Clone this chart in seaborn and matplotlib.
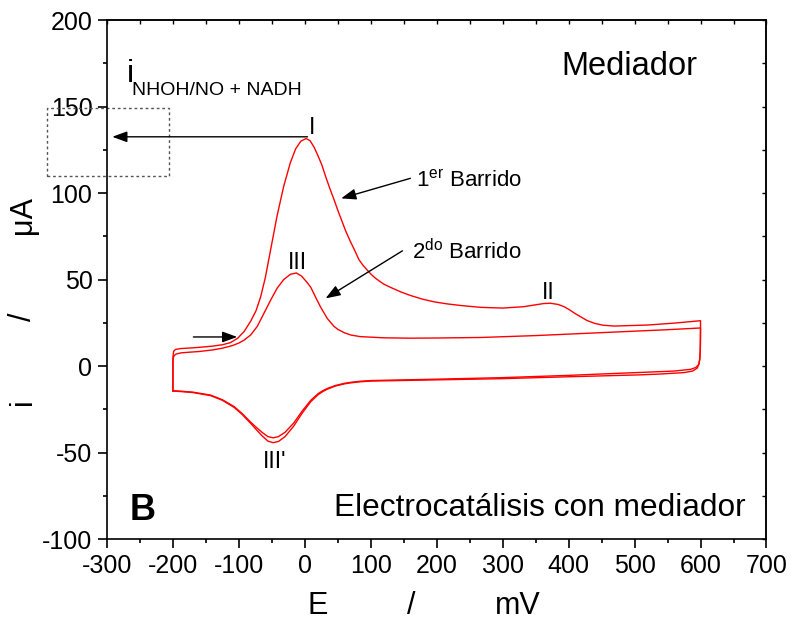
import matplotlib
matplotlib.use("Agg")
import matplotlib.pyplot as plt
import matplotlib.transforms as mtransforms
from matplotlib.patches import Rectangle
from matplotlib.ticker import MultipleLocator, NullFormatter
import pandas as pd
import seaborn as sns

# Cyclic voltammogram, scan 1 (E in mV, i in uA), closed loop starting at -200 mV
scan1_E = [-200, -200, -199, -196, -188, -175, -160, -140, -125, -113, -102, -92, -82, -74,
           -67, -60, -52, -42, -32, -22, -14, -6, 2, 8, 14, 20, 26, 32, 38, 44, 50, 56, 62,
           69, 76, 82, 88, 95, 101, 107, 114, 120, 128, 135, 147, 160, 178, 196, 216, 236,
           267, 300, 332, 350, 362, 372, 384, 393, 400, 410, 418, 428, 439, 452, 469, 520,
           560, 600,
           599.8, 599, 597, 593, 585, 560, 509, 450, 400, 300, 200, 100, 84, 70, 60, 46, 34,
           27, 20, 9, -4, -17, -30, -40, -48, -56, -65, -74, -82, -95, -107, -125, -143,
           -170, -190, -200]
scan1_i = [-14.3, 5, 8.5, 9.6, 10.1, 10.4, 10.8, 11.5, 12.3, 13.5, 16, 20, 26, 32,
           40, 51, 67, 87, 104, 117.5, 125.5, 130, 131.5, 130.2, 126.5, 121.5, 116, 109,
           102.5, 96.5, 90, 84, 78, 72, 66.5, 61.5, 58.3, 55.3, 52.8, 50.8, 48.8, 47.3,
           45.8, 44.6, 42.6, 40.8, 38.7, 37.1, 35.9, 35, 33.9, 33.5, 34.3, 35.4, 36.1, 36.3,
           35.6, 34.3, 32.8, 30.3, 28.5, 26.3, 24.7, 23.6, 23.1, 23.7, 24.8, 26.2,
           12, 4, 0.8, -0.8, -1.9, -2.9, -3.7, -4.6, -5.4, -6.7, -7.6, -8.4, -8.8, -9.4, -10,
           -11.3, -13, -14.3, -16, -19.8, -26, -33, -38.3, -40.8, -41.5, -40.8, -38.3, -35.3,
           -32.5, -27.5, -23.5, -19.5, -16.8, -15.1, -14.5, -14.3]

# Scan 2
scan2_E = [-200, -200, -199, -196, -188, -175, -160, -140, -125, -110, -100, -92, -82, -72,
           -62, -52, -42, -32, -22, -13, -5, 3, 9, 16, 24, 34, 44, 50, 60, 70, 84, 120, 160,
           200, 267, 350, 450, 550, 600,
           599.5, 598, 595, 588, 575, 540, 509, 450, 400, 300, 200, 100, 84, 70, 60, 46, 34,
           27, 20, 9, -4, -17, -30, -40, -48, -56, -65, -74, -82, -95, -107, -125, -143,
           -170, -190, -200]
scan2_i = [-14.5, 3, 5.5, 6.8, 7.6, 8.0, 8.4, 9.3, 10.3, 11.8, 13.3, 15, 18, 23,
           30.5, 38, 45, 50, 53, 53.8, 52, 48.5, 45.5, 40, 34, 27.5, 23, 21.2, 19.2, 17.9,
           17, 16.3, 16.1, 16.2, 16.5, 17.6, 19.3, 21, 22,
           8, 1.5, -1.2, -2.9, -3.8, -4.6, -5.1, -5.7, -6.2, -7.3, -8.0, -8.7, -9.1, -9.7,
           -10.3, -11.6, -13.4, -14.8, -16.6, -20.6, -27.2, -34.8, -40.8, -43.6, -44.3,
           -43.4, -40.3, -36.6, -33.2, -28, -24, -19.8, -17.1, -15.3, -14.7, -14.5]

scan_names = ["1er Barrido", "2do Barrido"]

frames = []
for name, E, cur in zip(scan_names, [scan1_E, scan2_E], [scan1_i, scan2_i]):
    frames.append(pd.DataFrame({"E": E, "i": cur, "barrido": name}))
df = pd.concat(frames, ignore_index=True)

sns.set_theme(style="ticks")
plt.rcParams["font.family"] = ["Liberation Sans", "DejaVu Sans"]
plt.rcParams["mathtext.fontset"] = "custom"
plt.rcParams["mathtext.rm"] = "Liberation Sans"
plt.rcParams["mathtext.it"] = "Liberation Sans:italic"
plt.rcParams["axes.linewidth"] = 1.2
plt.rcParams["axes.unicode_minus"] = False
plt.rcParams["text.color"] = "black"
plt.rcParams["xtick.color"] = "black"
plt.rcParams["ytick.color"] = "black"

fig = plt.figure(figsize=(7.92, 6.2), dpi=100)
ax = fig.add_axes([0.1351, 0.1306, 0.8327, 0.8371])

sns.lineplot(data=df, x="E", y="i", hue="barrido", palette=["#ff0000", "#ff0000"],
             sort=False, estimator=None, linewidth=1.0, legend=False, ax=ax)

ax.set_xlim(-300, 700)
ax.set_ylim(-100, 200)
ax.xaxis.set_major_locator(MultipleLocator(100))
ax.xaxis.set_minor_locator(MultipleLocator(50))
ax.yaxis.set_major_locator(MultipleLocator(50))
ax.yaxis.set_minor_locator(MultipleLocator(25))
ax.tick_params(which="major", direction="out", length=6.5, width=1.2, labelsize=18,
               pad=4, colors="black", labelcolor="black")
ax.tick_params(which="minor", direction="out", length=3, width=1.2, colors="black")
for s in ax.spines.values():
    s.set_color("black")
    s.set_linewidth(1.2)
ax.set_xlabel("")
ax.set_ylabel("")

# inward ticks on the top and right frame
top = ax.secondary_xaxis("top")
top.xaxis.set_major_locator(MultipleLocator(100))
top.xaxis.set_minor_locator(MultipleLocator(50))
top.xaxis.set_major_formatter(NullFormatter())
top.tick_params(which="both", direction="in", length=3, width=1.0, colors="black")
right = ax.secondary_yaxis("right")
right.yaxis.set_major_locator(MultipleLocator(50))
right.yaxis.set_minor_locator(MultipleLocator(25))
right.yaxis.set_major_formatter(NullFormatter())
right.tick_params(which="both", direction="in", length=3, width=1.0, colors="black")

# axis titles, spread out along each axis
bx = mtransforms.blended_transform_factory(ax.transData, ax.transAxes)
for txt, xv in [("E", 20), ("/", 162), ("mV", 323)]:
    ax.text(xv, -0.1445, txt, transform=bx, ha="center", va="baseline", fontsize=22)
by = mtransforms.blended_transform_factory(ax.transAxes, ax.transData)
for txt, yv in [("i", -20.8), ("/", 28.3), ("μA", 87.3)]:
    ax.text(-0.127, yv, txt, transform=by, ha="center", va="center", fontsize=22,
            rotation=90)

# panel texts
ax.text(389, 168.2, "Mediador", fontsize=23.5, ha="left", va="baseline")
ax.text(44, -86.7, "Electrocatálisis con mediador", fontsize=22.8, ha="left", va="baseline")
ax.text(-266, -89, "B", fontsize=26, fontweight="bold", ha="left", va="baseline")
ax.text(-269.5, 164.2, "i", fontsize=23, ha="left", va="baseline")
ax.text(-261.5, 156.6, "NHOH/NO + NADH", fontsize=14, ha="left", va="baseline")

# peak labels
ax.text(11, 134.1, "I", fontsize=16.5, ha="center", va="baseline")
ax.text(-11, 56.1, "III", fontsize=16.5, ha="center", va="baseline")
ax.text(369, 38.7, "II", fontsize=16.5, ha="center", va="baseline")
ax.text(-46, -59, "III'", fontsize=16.5, ha="center", va="baseline")
ax.text(168, 103.5, r"1$^{\mathrm{er}}$ Barrido", fontsize=16, ha="left", va="baseline")
ax.text(163, 61.8, r"2$^{\mathrm{do}}$ Barrido", fontsize=16, ha="left", va="baseline")

arrow = dict(arrowstyle="-|>,head_length=0.6,head_width=0.22", color="black", lw=1.0,
             shrinkA=0, shrinkB=0, mutation_scale=15)
ax.annotate("", xy=(-292, 132.5), xytext=(4, 132.5), arrowprops=arrow)
ax.annotate("", xy=(55, 96.9), xytext=(160, 108.5), arrowprops=arrow)
ax.annotate("", xy=(31.4, 39.1), xytext=(148, 66.6), arrowprops=arrow)
ax.annotate("", xy=(-102.6, 16.8), xytext=(-169, 16.8), arrowprops=arrow)

# dotted box around the current read-off
ax.add_patch(Rectangle((-391, 109.8), 184.6, 39.2, fill=False, ls=(0, (2, 2)), lw=1.0,
                       ec="#555555", clip_on=False))

fig.savefig("out.png", dpi=100)
